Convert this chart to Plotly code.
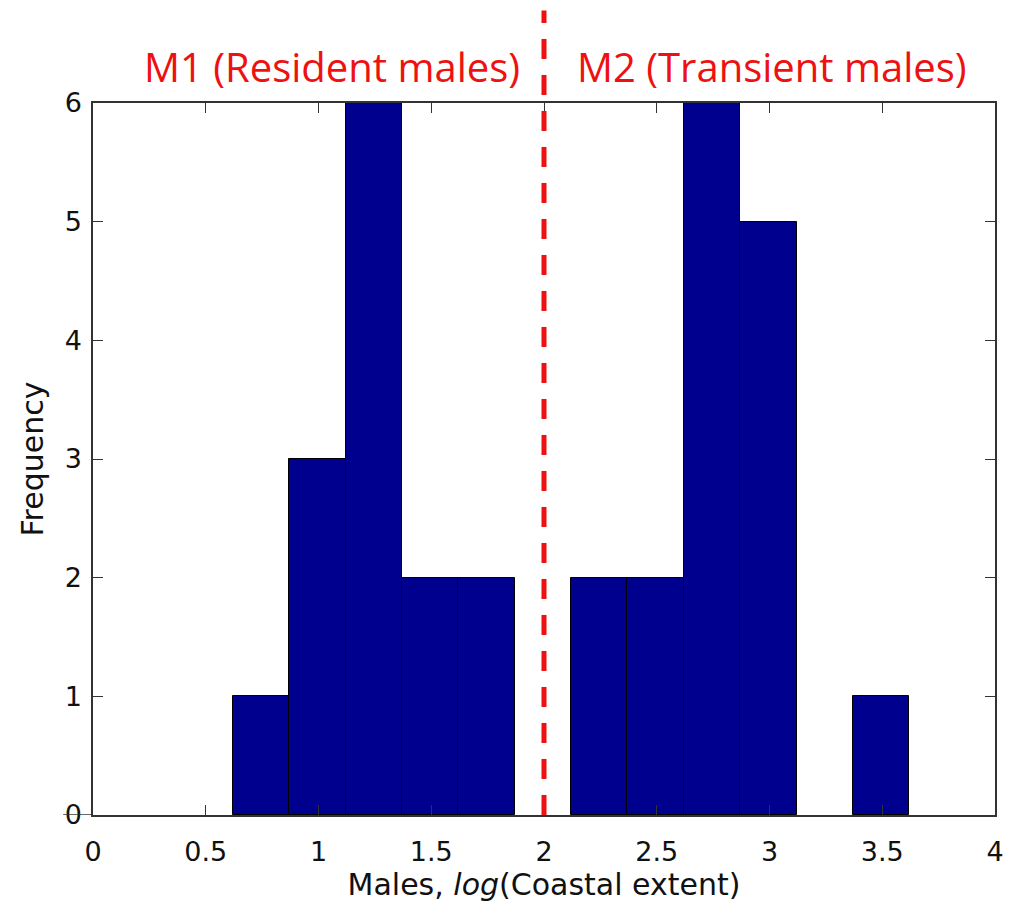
import plotly.graph_objects as go

# Histogram of male coastal extent (log scale), 12 equal bins
bin_centers = [0.745, 0.995, 1.245, 1.495, 1.745, 1.995,
               2.245, 2.495, 2.745, 2.995, 3.245, 3.495]
counts = [1, 3, 6, 2, 2, 0, 2, 2, 6, 5, 0, 1]
bin_width = 0.25

x_ticks = [0, 0.5, 1, 1.5, 2, 2.5, 3, 3.5, 4]
x_tick_text = ["0", "0.5", "1", "1.5", "2", "2.5", "3", "3.5", "4"]
y_ticks = [0, 1, 2, 3, 4, 5, 6]

threshold = 2.0
group_labels = ["M1 (Resident males)", "M2 (Transient males)"]
group_label_x = [1.062, 3.01]

# empty bins get no outline
edge_widths = [1 if c > 0 else 0 for c in counts]

fig = go.Figure()
fig.add_trace(go.Bar(
    x=bin_centers, y=counts, width=bin_width,
    marker=dict(color="#00008F", line=dict(color="#000000", width=edge_widths)),
    showlegend=False,
))

sans = "DejaVu Sans, Verdana, sans-serif"
axis_font = dict(family=sans, size=27, color="#111111")

fig.update_layout(
    width=1016, height=910,
    margin=dict(l=93, r=17, t=103, b=95),
    paper_bgcolor="white", plot_bgcolor="white",
    bargap=0,
    xaxis=dict(
        range=[0, 4], tickvals=x_ticks, ticktext=x_tick_text,
        ticks="inside", ticklen=10, tickcolor="#333333",
        showline=True, linecolor="#333333", linewidth=1.5, mirror="ticks",
        showgrid=False, zeroline=False, tickfont=axis_font,
        ticklabelstandoff=12,
        title=dict(text="Males, <i>log</i>(Coastal extent)",
                   font=dict(family=sans, size=30, color="#111111"),
                   standoff=6),
    ),
    yaxis=dict(
        range=[0, 6], tickvals=y_ticks,
        ticks="inside", ticklen=10, tickcolor="#333333",
        showline=True, linecolor="#333333", linewidth=1.5, mirror="ticks",
        showgrid=False, zeroline=False, tickfont=axis_font,
        ticklabelstandoff=4,
        title=dict(text="Frequency",
                   font=dict(family=sans, size=30, color="#111111"),
                   standoff=12),
    ),
)

# Dashed divider between the two male groups
fig.add_shape(type="line", xref="x", yref="paper",
              x0=threshold, x1=threshold, y0=0, y1=1.13,
              line=dict(color="#EE1111", width=5, dash="20px,16px"), layer="above")

# Short extension of the baseline through the 0 tick label
fig.add_shape(type="line", xref="paper", yref="y",
              x0=-30 / 906, x1=0, y0=0, y1=0,
              line=dict(color="#333333", width=1.5))

for label, lx in zip(group_labels, group_label_x):
    fig.add_annotation(
        x=lx, y=1.01, xref="x", yref="paper", yanchor="bottom",
        text=label, showarrow=False,
        font=dict(family="Open Sans, sans-serif", size=40, color="#EE1111"),
    )

fig.write_html("out.html")
